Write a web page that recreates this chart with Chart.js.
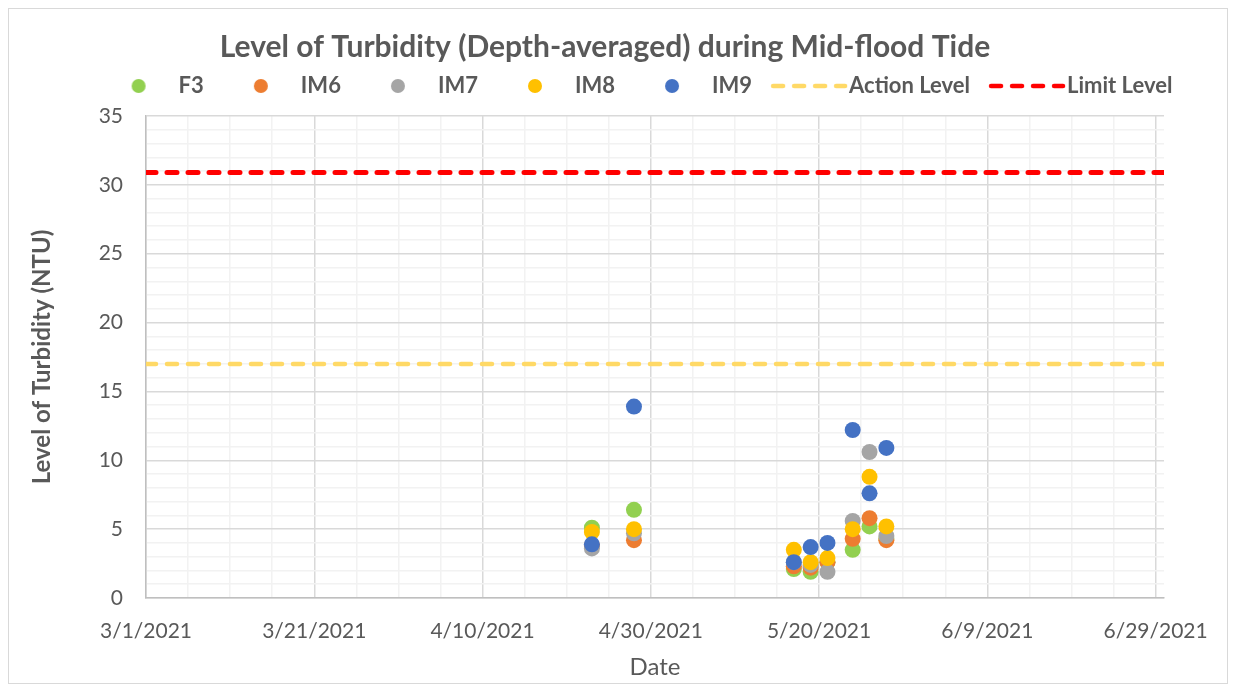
<!DOCTYPE html>
<html>
<head>
<meta charset="utf-8">
<script src="https://cdn.jsdelivr.net/npm/chart.js@4.4.0/dist/chart.umd.min.js"></script>
<style>
  body { margin: 0; background: #fff; }
  #wrap { position: absolute; left: 0; top: 0; width: 1236px; height: 692px; }
</style>
</head>
<body>
<div id="wrap"><canvas id="myChart"></canvas></div>
<script>
// Sampling dates and depth-averaged turbidity (NTU)
const dates = ['4/23/2021', '4/28/2021', '5/17/2021', '5/19/2021', '5/21/2021', '5/24/2021', '5/26/2021', '5/28/2021']
const f3 = [5.1, 6.4, 2.1, 1.9, 2.6, 3.5, 5.2, 4.3]
const im6 = [3.8, 4.2, 2.3, 2.2, 2.6, 4.3, 5.8, 4.2]
const im7 = [3.6, 4.7, 2.6, 2.4, 1.9, 5.6, 10.6, 4.5]
const im8 = [4.8, 5.0, 3.5, 2.6, 2.9, 5.0, 8.8, 5.2]
const im9 = [3.9, 13.9, 2.6, 3.7, 4.0, 12.2, 7.6, 10.9]

const actionLevel = 17
const limitLevel = 30.9

// Axis range
const axisStart = '3/1/2021'
const axisEnd = '6/30/2021'

const TEXT = '#595959'
const FONT = 'Lato'
const LEGEND_BOX = 74

const startMs = Date.UTC(2021, 2, 1)
function toDay(s) {
    const [m, d, y] = s.split('/').map(Number)
    return (Date.UTC(y, m - 1, d) - startMs) / 86400000
}
function toLabel(day) {
    const dt = new Date(startMs + day * 86400000)
    return (dt.getUTCMonth() + 1) + '/' + dt.getUTCDate() + '/' + dt.getUTCFullYear()
}

const xMin = toDay(axisStart)
const xMax = toDay(axisEnd)

function points(values) {
    return values.map((v, i) => ({ x: toDay(dates[i]), y: v }))
}

// legend pictures; chart.js centres them on the legend box, so the canvas is
// twice the box wide and u = 0 is the left edge of the legend item
function legendIcon(draw) {
    const c = document.createElement('canvas')
    c.width = LEGEND_BOX * 2
    c.height = 18
    const g = c.getContext('2d')
    g.translate(LEGEND_BOX / 2, 9)
    draw(g)
    return c
}
function dotIcon(color) {
    return legendIcon(g => {
        g.fillStyle = color
        g.beginPath()
        g.arc(45, 0, 7, 0, Math.PI * 2)
        g.fill()
    })
}
function dashIcon(color) {
    return legendIcon(g => {
        g.strokeStyle = color
        g.lineWidth = 4.5
        g.lineCap = 'round'
        g.setLineDash([10, 11])
        g.beginPath()
        g.moveTo(9, 0)
        g.lineTo(81, 0)
        g.stroke()
    })
}

const series = [
    { label: 'F3', data: f3, color: '#92D050' },
    { label: 'IM6', data: im6, color: '#ED7D31' },
    { label: 'IM7', data: im7, color: '#A5A5A5' },
    { label: 'IM8', data: im8, color: '#FFC000' },
    { label: 'IM9', data: im9, color: '#4472C4' }
]

const datasets = series.map((s, i) => ({
    type: 'scatter',
    label: s.label,
    data: points(s.data),
    backgroundColor: s.color,
    borderColor: s.color,
    borderWidth: 0,
    pointRadius: 8,
    pointHoverRadius: 8,
    order: 10 - i,
    legendIcon: dotIcon(s.color)
}))

datasets.push({
    type: 'line',
    label: 'Action Level',
    data: [{ x: xMin, y: actionLevel }, { x: xMax, y: actionLevel }],
    borderColor: '#FFD966',
    borderWidth: 4.5,
    borderDash: [10, 11],
    borderCapStyle: 'round',
    pointRadius: 0,
    fill: false,
    order: 20,
    legendIcon: dashIcon('#FFD966')
})
datasets.push({
    type: 'line',
    label: 'Limit Level',
    data: [{ x: xMin, y: limitLevel }, { x: xMax, y: limitLevel }],
    borderColor: '#FF0000',
    borderWidth: 5,
    borderDash: [10, 11],
    borderCapStyle: 'round',
    pointRadius: 0,
    fill: false,
    order: 21,
    legendIcon: dashIcon('#FF0000')
})

// outer frame + nudge legend to where excel puts it
const framePlugin = {
    id: 'frame',
    afterLayout(chart) {
        chart.legend.left += 28
        chart.legend.right += 28
    },
    beforeDraw(chart) {
        const ctx = chart.ctx
        ctx.save()
        ctx.fillStyle = '#fff'
        ctx.fillRect(0, 0, chart.width, chart.height)
        ctx.strokeStyle = '#D9D9D9'
        ctx.lineWidth = 1
        ctx.strokeRect(8.5, 8.5, 1219, 675)
        ctx.restore()
    }
}

const hiddenAxis = {
    display: true,
    ticks: { display: false },
    grid: { display: false },
    border: { display: false }
}

const ctx = document.getElementById('myChart')
new Chart(ctx, {
    data: { datasets: datasets },
    plugins: [framePlugin],
    options: {
        responsive: true,
        maintainAspectRatio: false,
        animation: false,
        layout: { padding: { left: 20, right: 46, top: 18, bottom: 10 } },
        plugins: {
            title: {
                display: true,
                text: 'Level of Turbidity (Depth-averaged) during Mid-flood Tide',
                color: TEXT,
                font: { family: FONT, size: 30, weight: 'bold', lineHeight: 1 },
                padding: { top: 14, bottom: 1 }
            },
            legend: {
                position: 'top',
                labels: {
                    color: TEXT,
                    font: { family: FONT, size: 22, weight: 'bold' },
                    usePointStyle: true,
                    pointStyleWidth: LEGEND_BOX,
                    boxHeight: 18,
                    padding: 12,
                    generateLabels(chart) {
                        return chart.data.datasets.map((ds, i) => ({
                            text: ds.label,
                            fillStyle: ds.borderColor,
                            strokeStyle: ds.borderColor,
                            lineWidth: 0,
                            pointStyle: ds.legendIcon,
                            fontColor: TEXT,
                            hidden: false,
                            datasetIndex: i
                        }))
                    }
                }
            },
            tooltip: { enabled: false }
        },
        scales: {
            x: {
                type: 'linear',
                min: xMin,
                max: xMax,
                title: {
                    display: true,
                    text: 'Date',
                    color: TEXT,
                    font: { family: FONT, size: 24 },
                    padding: { top: 9, bottom: 0 }
                },
                ticks: {
                    stepSize: 5,
                    includeBounds: false,
                    autoSkip: false,
                    maxRotation: 0,
                    padding: 21,
                    color: TEXT,
                    font: { family: FONT, size: 21 },
                    callback: (v) => (v % 20 === 0 ? toLabel(v) : '')
                },
                grid: {
                    drawTicks: false,
                    color: (c) => (c.tick && c.tick.value % 20 === 0 ? '#D9D9D9' : '#F2F2F2'),
                    lineWidth: 1.5
                },
                border: { color: '#BFBFBF', width: 1.5 },
                afterFit(scale) { scale.height = 84 }
            },
            y: {
                min: 0,
                max: 35,
                title: {
                    display: true,
                    text: 'Level of Turbidity (NTU)',
                    color: TEXT,
                    font: { family: FONT, size: 24, weight: 'bold' },
                    padding: { top: 8, bottom: 0 }
                },
                ticks: {
                    stepSize: 1,
                    autoSkip: false,
                    padding: 23,
                    color: TEXT,
                    font: { family: FONT, size: 21 },
                    callback: (v) => (v % 5 === 0 ? v : '')
                },
                grid: {
                    drawTicks: false,
                    color: (c) => (c.tick && c.tick.value % 5 === 0 ? '#D9D9D9' : '#F2F2F2'),
                    lineWidth: 1.5
                },
                border: { color: '#BFBFBF', width: 1.5 },
                afterFit(scale) { scale.width = 126 }
            },
            // empty spacers so the plot area sits where excel put it
            padRight: { ...hiddenAxis, position: 'right', afterFit(scale) { scale.width = 26 } },
            padTop: { ...hiddenAxis, axis: 'x', position: 'top', afterFit(scale) { scale.height = 9 } }
        }
    }
})
</script>
</body>
</html>
